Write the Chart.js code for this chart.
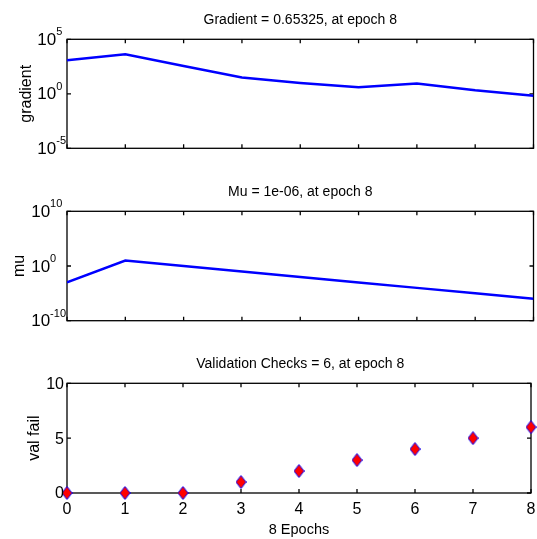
<!DOCTYPE html>
<html>
<head>
<meta charset="utf-8">
<script src="https://cdn.jsdelivr.net/npm/chart.js@4.4.1/dist/chart.umd.min.js"></script>
<style>
  html, body { margin: 0; padding: 0; background: #fff; }
  #wrap { position: relative; width: 537px; height: 539px; overflow: hidden; }
  #wrap canvas { position: absolute; left: 0; }
</style>
</head>
<body>
<div id="wrap">
  <canvas id="gradChart" width="537" height="172" style="top:0px"></canvas>
  <canvas id="muChart" width="537" height="172" style="top:172px"></canvas>
  <canvas id="valChart" width="537" height="195" style="top:344px"></canvas>
</div>
<script>
// training record, one value per epoch
const epochs = [0, 1, 2, 3, 4, 5, 6, 7, 8];
const gradient = [1200, 4300, 360, 31, 10, 4, 9, 2.1, 0.65325];
const mu = [1e-3, 10, 1, 0.1, 0.01, 1e-3, 1e-4, 1e-5, 1e-6];
const valFail = [0, 0, 0, 1, 2, 3, 4, 5, 6];

// y tick marks: decades for the log panels, plain values for the last one
const gradExponents = [-5, 0, 5];
const muExponents = [-10, 0, 10];
const valTicks = [0, 5, 10];

const FONT = '"Liberation Sans", Arial, Helvetica, sans-serif';
Chart.defaults.font.family = FONT;
Chart.defaults.color = '#000';

const points = ys => epochs.map((e, i) => ({ x: e, y: ys[i] }));

// boxed axes with inward ticks, exponent tick labels and a rotated y label
const matlabAxes = {
  id: 'matlabAxes',
  beforeDatasetsDraw(chart, args, opts) {
    const { ctx, chartArea: a } = chart;
    const xs = chart.scales.x, ys = chart.scales.y;
    ctx.save();
    ctx.strokeStyle = '#000';
    ctx.lineWidth = 1.3;
    ctx.strokeRect(a.left, a.top, a.right - a.left, a.bottom - a.top);
    ctx.beginPath();
    epochs.forEach(e => {
      const px = xs.getPixelForValue(e);
      ctx.moveTo(px, a.top); ctx.lineTo(px, a.top + 4);
      ctx.moveTo(px, a.bottom); ctx.lineTo(px, a.bottom - 4);
    });
    opts.yTicks.forEach(v => {
      const py = ys.getPixelForValue(v);
      ctx.moveTo(a.left, py); ctx.lineTo(a.left + 4, py);
      ctx.moveTo(a.right, py); ctx.lineTo(a.right - 4, py);
    });
    ctx.stroke();
    ctx.restore();
  },
  afterDraw(chart, args, opts) {
    const { ctx, chartArea: a } = chart;
    const ys = chart.scales.y;
    ctx.save();
    ctx.fillStyle = '#000';
    ctx.textBaseline = 'middle';
    if (opts.exponents) {
      const base = '17px ' + FONT, sup = '11px ' + FONT;
      ctx.font = base;
      const wb = ctx.measureText('10').width;
      ctx.font = sup;
      const maxW = wb + Math.max(...opts.exponents.map(e => ctx.measureText(String(e)).width));
      const x0 = a.left - 1 - maxW;
      ctx.textAlign = 'left';
      opts.exponents.forEach(e => {
        const py = ys.getPixelForValue(Math.pow(10, e));
        ctx.font = base;
        ctx.fillText('10', x0, py + 1);
        ctx.font = sup;
        ctx.fillText(String(e), x0 + wb, py - 7);
      });
    } else {
      ctx.font = '16px ' + FONT;
      ctx.textAlign = 'right';
      opts.yTicks.forEach(v => {
        ctx.fillText(String(v), a.left - 3, ys.getPixelForValue(v) + 1);
      });
    }
    ctx.translate(opts.titleX, (a.top + a.bottom) / 2);
    ctx.rotate(-Math.PI / 2);
    ctx.textAlign = 'center';
    ctx.font = '16px ' + FONT;
    ctx.fillText(opts.title, 0, 0);
    ctx.restore();
  }
};

function titleOpts(text) {
  return {
    display: true,
    text: text,
    color: '#000',
    font: { size: 14, weight: 'normal' },
    padding: { top: 12, bottom: 10.5 }
  };
}

function lineDataset(values) {
  return {
    data: points(values),
    borderColor: '#0000ff',
    borderWidth: 2.5,
    pointRadius: 0,
    tension: 0,
    fill: false
  };
}

// red diamond with a thin blue edge
function diamondMarker() {
  const c = document.createElement('canvas');
  c.width = 11; c.height = 14;
  const g = c.getContext('2d');
  g.beginPath();
  g.moveTo(5.5, 0.5); g.lineTo(10.5, 7); g.lineTo(5.5, 13.5); g.lineTo(0.5, 7);
  g.closePath();
  g.fillStyle = '#ff0000';
  g.fill();
  g.strokeStyle = '#0000ff';
  g.lineWidth = 1;
  g.stroke();
  return c;
}

const common = {
  responsive: false,
  animation: false,
  events: []
};

new Chart(document.getElementById('gradChart'), {
  type: 'line',
  data: { datasets: [lineDataset(gradient)] },
  options: {
    ...common,
    layout: { padding: { left: 67, right: 3.5, top: 0, bottom: 23.7 } },
    plugins: {
      legend: { display: false },
      tooltip: { enabled: false },
      title: titleOpts('Gradient = 0.65325, at epoch 8'),
      matlabAxes: {
        yTicks: gradExponents.map(e => Math.pow(10, e)),
        exponents: gradExponents,
        title: 'gradient',
        titleX: 27
      }
    },
    scales: {
      x: { type: 'linear', min: 0, max: 8, display: false },
      y: { type: 'logarithmic', min: 1e-5, max: 1e5, display: false }
    }
  },
  plugins: [matlabAxes]
});

new Chart(document.getElementById('muChart'), {
  type: 'line',
  data: { datasets: [lineDataset(mu)] },
  options: {
    ...common,
    layout: { padding: { left: 67, right: 3.5, top: 0, bottom: 23.3 } },
    plugins: {
      legend: { display: false },
      tooltip: { enabled: false },
      title: titleOpts('Mu = 1e-06, at epoch 8'),
      matlabAxes: {
        yTicks: muExponents.map(e => Math.pow(10, e)),
        exponents: muExponents,
        title: 'mu',
        titleX: 20
      }
    },
    scales: {
      x: { type: 'linear', min: 0, max: 8, display: false },
      y: { type: 'logarithmic', min: 1e-10, max: 1e10, display: false }
    }
  },
  plugins: [matlabAxes]
});

new Chart(document.getElementById('valChart'), {
  type: 'line',
  data: {
    datasets: [{
      data: points(valFail),
      showLine: false,
      pointStyle: diamondMarker(),
      pointRadius: 5,
      clip: false
    }]
  },
  options: {
    ...common,
    layout: { padding: { left: 67, right: 3.5, top: 0, bottom: 0 } },
    plugins: {
      legend: { display: false },
      tooltip: { enabled: false },
      title: titleOpts('Validation Checks = 6, at epoch 8'),
      matlabAxes: {
        yTicks: valTicks,
        exponents: null,
        title: 'val fail',
        titleX: 35
      }
    },
    scales: {
      x: {
        type: 'linear', min: 0, max: 8,
        grid: { display: false, drawTicks: false },
        border: { display: false },
        ticks: { stepSize: 1, padding: 7, font: { size: 16 }, maxRotation: 0, autoSkip: false },
        title: { display: true, text: '8 Epochs', font: { size: 14.5 }, padding: 0 },
        afterFit(scale) {
          scale.height = 46;
          scale.paddingLeft = 0;
          scale.paddingRight = 0;
        }
      },
      y: { type: 'linear', min: 0, max: 10, display: false }
    }
  },
  plugins: [matlabAxes]
});
</script>
</body>
</html>
